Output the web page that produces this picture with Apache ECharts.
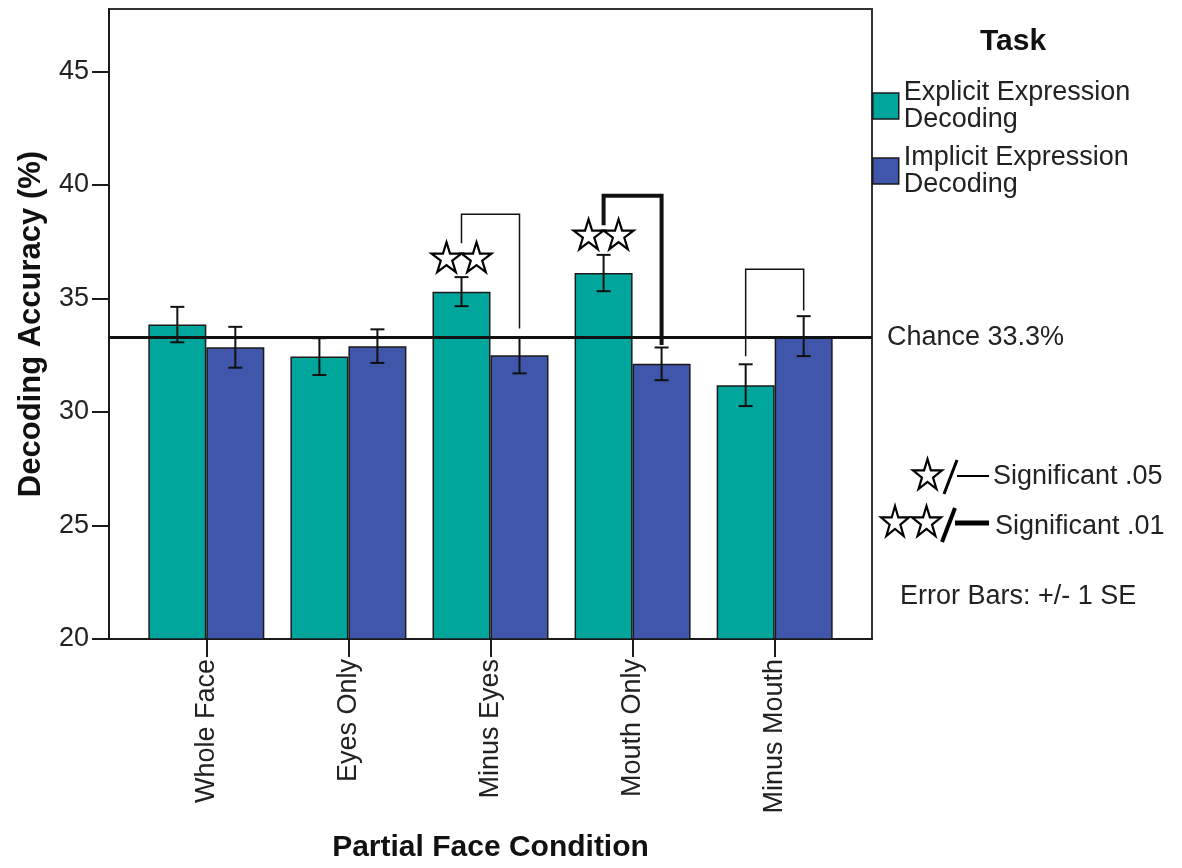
<!DOCTYPE html>
<html><head><meta charset="utf-8">
<script src="https://cdn.jsdelivr.net/npm/echarts@6/dist/echarts.min.js"></script>
<style>html,body{margin:0;padding:0;background:#fff}#c{width:1182px;height:868px}</style>
</head><body><div id="c"></div>
<script>
// ---- data ----
const categories = ['Whole Face', 'Eyes Only', 'Minus Eyes', 'Mouth Only', 'Minus Mouth'];
const seriesNames = ['Explicit Expression Decoding', 'Implicit Expression Decoding'];
const explicitMean = [33.85, 32.44, 35.30, 36.12, 31.18];
const explicitSE   = [0.78, 0.81, 0.64, 0.80, 0.92];
const implicitMean = [32.85, 32.90, 32.50, 32.12, 33.34];
const implicitSE   = [0.90, 0.74, 0.80, 0.72, 0.88];
const yTicks = [20, 25, 30, 35, 40, 45];
const yMin = 20, yMax = 47.75;
const chanceLevel = 33.3;
const chanceLabel = 'Chance 33.3%';
// significance brackets (category, left leg end, top, right leg end, weight)
const bracketCategory = [2, 3, 4];
const bracketLeftEnd  = [37.43, 38.23, 32.45];
const bracketTop      = [38.71, 39.52, 36.29];
const bracketRightEnd = [33.68, 32.95, 34.47];
const bracketWeight   = ['thin', 'thick', 'thin'];
// star pairs above explicit bars
const starCategory = [2, 3];
const starY        = [36.82, 37.83];
const starCount    = [2, 2];

// ---- drawing ----
const FONT = '"Liberation Sans", Arial, Helvetica, sans-serif';
const TEAL = '#00a69c', BLUE = '#4056aa', INK = '#1a1a1a';
const HALF = 29, CAP = 7;
const STAR_PTS = [[50,0],[61.2,34.5],[97.6,34.5],[68.2,55.9],[79.4,90.5],[50,69.1],[20.6,90.5],[31.8,55.9],[2.4,34.5],[38.8,34.5]];
const STAR = 'M' + STAR_PTS.map(p => p[0] + ',' + p[1]).join(' L') + ' Z';
function starPoly(x, y, w, h) {
  return {
    type: 'polygon', silent: true, z: 10,
    shape: { points: STAR_PTS.map(p => [x + (p[0] - 2.4) / 95.2 * w, y + p[1] / 90.5 * h]) },
    style: { fill: '#fff', stroke: '#000', lineWidth: 2.2 }
  };
}

const chart = echarts.init(document.getElementById('c'));

const errData = [];
explicitMean.forEach((m, i) => errData.push([i, m - explicitSE[i], m + explicitSE[i], -1]));
implicitMean.forEach((m, i) => errData.push([i, m - implicitSE[i], m + implicitSE[i], 1]));

const bracketData = bracketCategory.map((c, i) =>
  [c, bracketLeftEnd[i], bracketTop[i], bracketRightEnd[i], bracketWeight[i] === 'thick' ? 4 : 1.5]);

const starData = [];
starCategory.forEach((c, i) => {
  for (let k = 0; k < starCount[i]; k++) {
    const off = -HALF + (k === 0 ? -15 : 15);
    starData.push({ value: [c, starY[i]], symbolOffset: [off, 0] });
  }
});

const legendText = {};
legendText[seriesNames[0]] = 'Explicit Expression\nDecoding';
legendText[seriesNames[1]] = 'Implicit Expression\nDecoding';

const txt = (text, x, y) => ({
  type: 'text', silent: true,
  style: { text, x, y, fontSize: 27, fontFamily: FONT, fill: '#222', verticalAlign: 'middle', align: 'left' }
});
const seg = (x1, y1, x2, y2, w) => ({
  type: 'line', silent: true, shape: { x1, y1, x2, y2 }, style: { stroke: '#000', lineWidth: w }
});

const option = {
  animation: false,
  backgroundColor: '#fff',
  textStyle: { fontFamily: FONT },
  title: {
    text: 'Task', left: 1008, top: 22, textAlign: 'center',
    textStyle: { fontSize: 30, fontWeight: 'bold', color: '#111', fontFamily: FONT }
  },
  legend: {
    orient: 'vertical', left: 872, top: 79, padding: 0, itemWidth: 26, itemHeight: 26, itemGap: 11,
    icon: 'rect', data: seriesNames, selectedMode: false,
    formatter: n => legendText[n],
    textStyle: { fontSize: 27, lineHeight: 27, color: '#222', fontFamily: FONT },
    itemStyle: { borderColor: INK, borderWidth: 1.5 }
  },
  grid: { left: 109, top: 9, width: 763, height: 635, show: true, borderColor: '#333', borderWidth: 2 },
  xAxis: {
    type: 'value', min: -0.685, max: 4.685,
    axisLine: { show: true, onZero: false, lineStyle: { color: INK, width: 2 } },
    axisTick: { show: true, length: 18, customValues: categories.map((c, i) => i), lineStyle: { color: INK, width: 2 } },
    axisLabel: { customValues: categories.map((c, i) => i), rotate: 90, margin: 20, fontSize: 27, color: '#222',
                 fontFamily: FONT, formatter: v => categories[Math.round(v)] },
    splitLine: { show: false },
    name: 'Partial Face Condition', nameLocation: 'middle', nameGap: 194,
    nameTextStyle: { fontSize: 30, fontWeight: 'bold', color: '#111', fontFamily: FONT }
  },
  yAxis: {
    type: 'value', min: yMin, max: yMax,
    axisLine: { show: true, onZero: false, lineStyle: { color: INK, width: 2 } },
    axisTick: { show: true, length: 17, customValues: yTicks, lineStyle: { color: INK, width: 2 } },
    axisLabel: { customValues: yTicks, margin: 20, fontSize: 27, color: '#222', fontFamily: FONT },
    splitLine: { show: false },
    name: 'Decoding Accuracy (%)', nameLocation: 'middle', nameGap: 62,
    nameTextStyle: { fontSize: 31, fontWeight: 'bold', color: '#111', fontFamily: FONT }
  },
  series: [
    {
      name: seriesNames[0], type: 'bar', barWidth: 58, barGap: '0%',
      data: explicitMean.map((v, i) => [i, v]),
      itemStyle: { color: TEAL, borderColor: INK, borderWidth: 1.5 },
      emphasis: { disabled: true },
      markLine: {
        silent: true, symbol: ['none', 'none'], z: 10,
        lineStyle: { color: '#111', width: 3, type: 'solid' },
        label: { show: true, position: 'end', distance: 15, formatter: chanceLabel,
                 fontSize: 27, color: '#222', fontFamily: FONT },
        data: [{ yAxis: chanceLevel }]
      }
    },
    {
      name: seriesNames[1], type: 'bar', barWidth: 58, barGap: '0%',
      data: implicitMean.map((v, i) => [i, v]),
      itemStyle: { color: BLUE, borderColor: INK, borderWidth: 1.5 },
      emphasis: { disabled: true }
    },
    {
      type: 'custom', z: 5, silent: true, data: errData,
      encode: { x: 0, y: [1, 2] },
      renderItem: (params, api) => {
        const x = api.value(0), side = api.value(3);
        const pLo = api.coord([x, api.value(1)]), pHi = api.coord([x, api.value(2)]);
        const cx = pLo[0] + side * HALF;
        const st = { stroke: '#111', lineWidth: 2 };
        return { type: 'group', children: [
          { type: 'line', shape: { x1: cx, y1: pLo[1], x2: cx, y2: pHi[1] }, style: st },
          { type: 'line', shape: { x1: cx - CAP, y1: pHi[1], x2: cx + CAP, y2: pHi[1] }, style: st },
          { type: 'line', shape: { x1: cx - CAP, y1: pLo[1], x2: cx + CAP, y2: pLo[1] }, style: st }
        ]};
      }
    },
    {
      type: 'custom', z: 6, silent: true, data: bracketData,
      encode: { x: 0, y: [1, 2, 3] },
      renderItem: (params, api) => {
        const x = api.value(0);
        const a = api.coord([x, api.value(1)]), t = api.coord([x, api.value(2)]), b = api.coord([x, api.value(3)]);
        const x0 = a[0] - HALF, x1 = a[0] + HALF;
        return { type: 'polyline', shape: { points: [[x0, a[1]], [x0, t[1]], [x1, t[1]], [x1, b[1]]] },
                 style: { stroke: '#111', lineWidth: api.value(4), fill: null } };
      }
    },
    {
      type: 'scatter', z: 7, silent: true, data: starData,
      symbol: 'path://' + STAR, symbolSize: [30, 30],
      itemStyle: { color: '#fff', borderColor: '#000', borderWidth: 2.2, opacity: 1 }
    }
  ],
  graphic: [
    starPoly(913, 459, 29, 30),
    seg(944, 494, 957, 460, 3),
    seg(957, 476, 989, 476, 2),
    txt('Significant .05', 993, 477),
    starPoly(881, 506, 28, 30),
    starPoly(912, 506, 29, 30),
    seg(942, 542, 955, 508, 4),
    seg(955, 523, 989, 523, 5),
    txt('Significant .01', 995, 527),
    txt('Error Bars: +/- 1 SE', 900, 597)
  ]
};
chart.setOption(option);
</script>
</body></html>
